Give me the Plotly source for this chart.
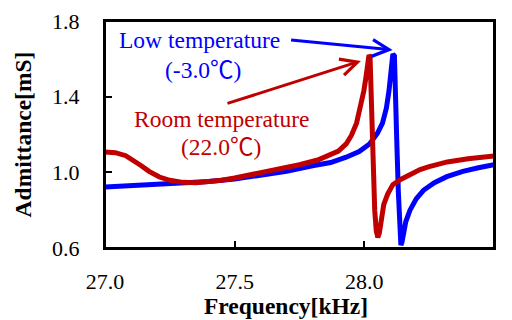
import plotly.graph_objects as go

# Low temperature (-3.0 C) admittance curve
low_freq = [27.00, 27.10, 27.20, 27.30, 27.40, 27.50, 27.60, 27.70, 27.80, 27.87,
            27.93, 27.98, 28.02, 28.05, 28.07, 28.085, 28.095, 28.103, 28.110, 28.116,
            28.121, 28.125, 28.131, 28.136, 28.141, 28.145, 28.152, 28.160, 28.176, 28.200,
            28.228, 28.270, 28.318, 28.380, 28.440, 28.500]
low_adm = [0.922, 0.928, 0.934, 0.942, 0.952, 0.965, 0.985, 1.005, 1.035, 1.052,
           1.080, 1.110, 1.150, 1.205, 1.260, 1.340, 1.430, 1.540, 1.625, 1.615,
           1.450, 1.170, 0.900, 0.700, 0.615, 0.630, 0.690, 0.740, 0.800, 0.860,
           0.905, 0.945, 0.977, 1.005, 1.024, 1.041]

# Room temperature (22.0 C) admittance curve
room_freq = [27.00, 27.04, 27.08, 27.11, 27.14, 27.17, 27.21, 27.25, 27.30, 27.35,
             27.40, 27.45, 27.50, 27.56, 27.62, 27.69, 27.75, 27.82, 27.87, 27.90,
             27.93, 27.95, 27.97, 27.985, 27.998, 28.006, 28.012, 28.018, 28.022, 28.026,
             28.030, 28.035, 28.040, 28.046, 28.052, 28.058, 28.066, 28.075, 28.090, 28.100,
             28.110, 28.140, 28.190, 28.215, 28.250, 28.320, 28.400, 28.500]
room_adm = [1.108, 1.104, 1.088, 1.065, 1.035, 1.005, 0.975, 0.958, 0.947, 0.945,
            0.950, 0.958, 0.970, 0.986, 1.003, 1.021, 1.040, 1.065, 1.090, 1.112,
            1.150, 1.195, 1.260, 1.340, 1.430, 1.500, 1.570, 1.620, 1.610, 1.400,
            1.150, 0.950, 0.800, 0.690, 0.656, 0.680, 0.760, 0.830, 0.885, 0.907,
            0.935, 0.962, 1.000, 1.015, 1.030, 1.055, 1.072, 1.086]

x_ticks = [27.0, 27.5, 28.0, 28.5]
x_tick_labels = ["27.0", "27.5", "28.0", "28.5"]
y_ticks = [0.6, 1.0, 1.4, 1.8]
y_tick_labels = ["0.6", "1.0", "1.4", "1.8"]

BLUE = "#0000FF"
RED = "#C00000"
FONT = "'Liberation Serif', 'Noto Sans CJK JP', serif"

fig = go.Figure()
fig.add_trace(go.Scatter(x=low_freq, y=low_adm, mode="lines",
                         line=dict(color=BLUE, width=5), showlegend=False))
fig.add_trace(go.Scatter(x=room_freq, y=room_adm, mode="lines",
                         line=dict(color=RED, width=5), showlegend=False))

axis_common = dict(showline=True, linewidth=2, linecolor="black", mirror=True,
                   ticks="inside", ticklen=7, tickwidth=2, tickcolor="black",
                   showgrid=False, zeroline=False,
                   tickfont=dict(family=FONT, size=22, color="black"))

fig.update_xaxes(range=[27.0, 28.5], tickvals=x_ticks, ticktext=x_tick_labels,
                 ticklabelstandoff=13, **axis_common)
fig.update_yaxes(range=[0.6, 1.8], tickvals=y_ticks, ticktext=y_tick_labels,
                 ticklabelstandoff=19,
                 title=dict(text="<b>Admittance[mS]</b>", standoff=14,
                            font=dict(family=FONT, size=23.5, color="black")),
                 **axis_common)

# x axis title (placed slightly left of centre as in the original)
fig.add_annotation(x=0.465, y=-0.2555, xref="paper", yref="paper",
                   text="<b>Frequency[kHz]</b>", showarrow=False,
                   font=dict(family=FONT, size=23.5, color="black"),
                   xanchor="center", yanchor="middle")

# plot frame
fig.add_shape(type="rect", xref="paper", yref="paper", x0=0, x1=1, y0=0, y1=1,
              line=dict(color="black", width=2), layer="above")

ann_font_b = dict(family=FONT, size=23.5, color=BLUE)
ann_font_r = dict(family=FONT, size=23.5, color=RED)

# arrows
fig.add_annotation(x=28.109, y=1.647, xref="x", yref="y", text="", showarrow=True,
                   ax=-103, ay=-10, arrowhead=5, arrowsize=1.1, arrowwidth=3,
                   arrowcolor=BLUE)
fig.add_annotation(x=27.987, y=1.589, xref="x", yref="y", text="", showarrow=True,
                   ax=-135, ay=43, arrowhead=5, arrowsize=1.1, arrowwidth=3,
                   arrowcolor=RED)

# labels
fig.add_annotation(x=0.244, y=0.916, xref="paper", yref="paper", text="Low temperature",
                   showarrow=False, font=ann_font_b, xanchor="center", yanchor="middle")
fig.add_annotation(x=0.252, y=0.784, xref="paper", yref="paper", text="(-3.0℃)",
                   showarrow=False, font=ann_font_b, xanchor="center", yanchor="middle")
fig.add_annotation(x=0.300, y=0.570, xref="paper", yref="paper", text="Room temperature",
                   showarrow=False, font=ann_font_r, xanchor="center", yanchor="middle")
fig.add_annotation(x=0.298, y=0.445, xref="paper", yref="paper", text="(22.0℃)",
                   showarrow=False, font=ann_font_r, xanchor="center", yanchor="middle")

fig.update_layout(width=512, height=320, margin=dict(l=105, r=18, t=21, b=72, autoexpand=False),
                  plot_bgcolor="white", paper_bgcolor="white",
                  font=dict(family=FONT, color="black"))

fig.write_html("out.html", config={"displayModeBar": False},
               post_script="document.body.style.margin='0';")
